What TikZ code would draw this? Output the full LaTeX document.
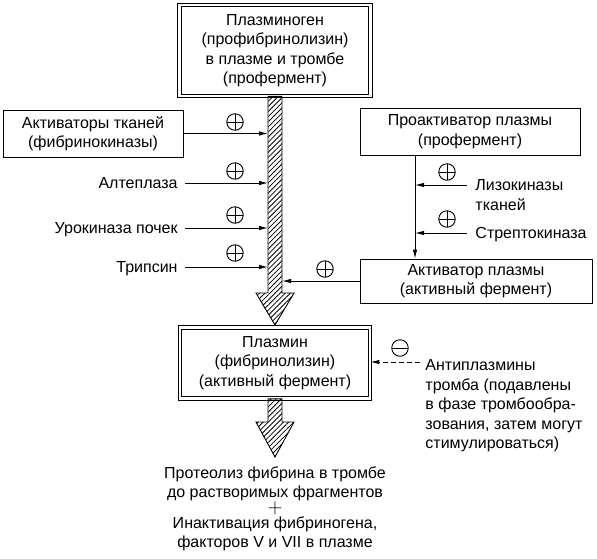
\documentclass[tikz,border=0pt]{standalone}
\usepackage{fontspec}
\setmainfont{Liberation Sans}
\usetikzlibrary{arrows.meta,patterns.meta}
\begin{document}
\begin{tikzpicture}[x=1pt,y=-1pt, line width=0.9pt, font=\fontsize{16}{19.5}\selectfont,
 box/.style={draw, align=center, inner sep=0pt},
 dbox/.style={box, double, double distance=2.6pt, line width=0.8pt},
 arr/.style={-{Latex[length=9pt,width=4.5pt]}},
 pl/.style={circle, draw, minimum size=16.5pt, inner sep=0pt, line width=0.9pt,
   path picture={\draw[line width=0.9pt] (path picture bounding box.north)--(path picture bounding box.south) (path picture bounding box.west)--(path picture bounding box.east);}},
 mi/.style={circle, draw, minimum size=16.5pt, inner sep=0pt, line width=0.9pt,
   path picture={\draw[line width=0.9pt] (path picture bounding box.west)--(path picture bounding box.east);}},
 lbl/.style={inner sep=0pt, align=left},
 one/.style={inner sep=0pt, text height=11.5pt, text depth=0pt},
 hatch/.style={draw, line width=0.9pt, pattern={Lines[angle=45,distance=3.6pt,line width=0.8pt]}}]
\path[use as bounding box] (0,0) rectangle (597,558);

% main boxes
\node[dbox, minimum width=191pt, minimum height=91pt] (plg) at (275,50.5) {Плазминоген\\(профибринолизин)\\в плазме и тромбе\\(профермент)};
\node[dbox, minimum width=190pt, minimum height=71pt] (plm) at (275,363) {Плазмин\\(фибринолизин)\\(активный фермент)};

% hatched arrows
\coordinate (sL) at (268,0);
\coordinate (sR) at (282,0);
\draw[hatch] (plg.south -| sL) -- (268,293) -- (256,293) -- (275,325) -- (294,293) -- (282,293) -- (plg.south -| sR) -- cycle;
\draw[hatch] (plm.south -| sL) -- (268,422) -- (256,422) -- (275,457) -- (294,422) -- (282,422) -- (plm.south -| sR) -- cycle;

% left activators
\node[box, minimum width=180pt, minimum height=47pt] (act) at (93,133.5) {Активаторы тканей\\(фибринокиназы)};
\draw[arr] (act.east) -- (act.east -| sL);
\node[one, anchor=east] (alt) at (178,183) {Алтеплаза};
\draw[arr] ([xshift=7pt]alt.east) -- (alt.east -| sL);
\node[one, anchor=east] (ur) at (178,228) {Урокиназа почек};
\draw[arr] ([xshift=7pt]ur.east) -- (ur.east -| sL);
\node[one, anchor=east] (tr) at (178,267) {Трипсин};
\draw[arr] ([xshift=7pt]tr.east) -- (tr.east -| sL);
\node[pl] (p1) at (235,122) {};
\node[pl] (p2) at (235,171) {};
\node[pl] (p3) at (235,215) {};
\node[pl] (p4) at (235,253) {};

% right side
\node[box, minimum width=220pt, minimum height=47pt] (pro) at (470,131.5) {Проактиватор плазмы\\(профермент)};
\node[box, minimum width=232pt, minimum height=44pt] (akt) at (476,281) {Активатор плазмы\\(активный фермент)};
\coordinate (vx) at (415,0);
\draw[arr] (pro.south -| vx) -- (akt.north -| vx);
\coordinate (lz) at (467,185);
\draw[arr] (lz) -- (lz -| vx);
\node[lbl, anchor=north west] (lzt) at (475,179.3) {Лизокиназы\\тканей};
\coordinate (sk) at (467,233);
\draw[arr] (sk) -- (sk -| vx);
\node[one, anchor=west] (skt) at (475,233) {Стрептокиназа};
\node[pl] (p5) at (447,172) {};
\node[pl] (p6) at (447,219) {};
\draw[arr] (akt.west) -- (akt.west -| sR);
\node[pl] (p7) at (325,269) {};

% antiplasmins
\coordinate (ap) at (420,362);
\draw[arr, dash pattern=on 5pt off 3pt] (ap) -- (ap -| plm.east);
\node[mi] (m1) at (400,348) {};
\node[lbl, anchor=north west] (apt) at (425,359.2) {Антиплазмины\\тромба (подавлены\\в фазе тромбообра-\\зования, затем могут\\стимулироваться)};

% result
\node[align=center, inner sep=0pt, anchor=north] (prot) at (275,466.2) {Протеолиз фибрина в тромбе\\до растворимых фрагментов};
\node[inner sep=0pt] (plus) at (275,508) {\fontsize{21}{21}\selectfont$+$};
\node[align=center, inner sep=0pt, anchor=north] (inak) at (275,516.2) {Инактивация фибриногена,\\факторов V и VII в плазме};
\end{tikzpicture}
\end{document}
